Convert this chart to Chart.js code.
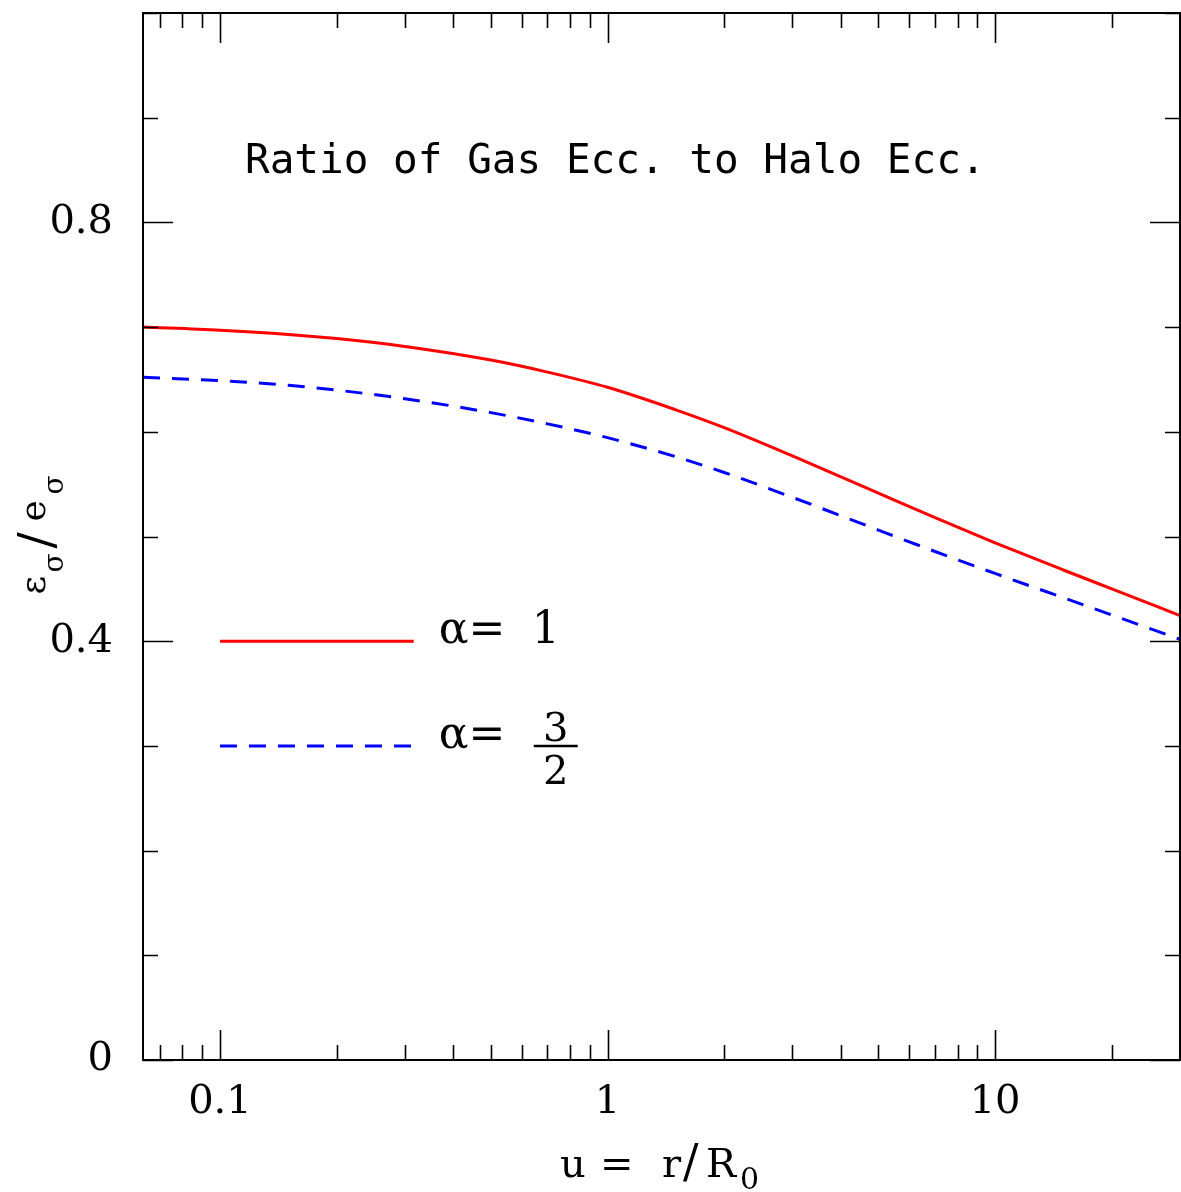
<!DOCTYPE html>
<html>
<head>
<meta charset="utf-8">
<script src="https://cdn.jsdelivr.net/npm/chart.js@4.4.0/dist/chart.umd.min.js"></script>
<style>
html,body{margin:0;padding:0;background:#fff;}
#wrap{width:1181px;height:1192px;position:relative;background:#fff;}
canvas{display:block;}
</style>
</head>
<body>
<div id="wrap"><canvas id="c" width="1181" height="1192"></canvas></div>
<script>
// ---- data ----
const uValues      = [0.0633, 0.1, 0.15, 0.2, 0.3, 0.5, 0.7, 1, 1.5, 2, 3, 5, 7, 10, 15, 20, 30];
const ratioAlpha1  = [0.700, 0.697, 0.693, 0.689, 0.6815, 0.6685, 0.657, 0.6425, 0.621, 0.604, 0.577, 0.5415, 0.518, 0.494, 0.468, 0.450, 0.4245];
const ratioAlpha32 = [0.652, 0.6488, 0.6444, 0.6398, 0.6316, 0.6183, 0.6076, 0.5944, 0.5762, 0.5611, 0.5374, 0.5061, 0.4857, 0.4647, 0.4415, 0.4250, 0.4018];

const xTickValues = [0.07, 0.08, 0.09, 0.1, 0.2, 0.3, 0.4, 0.5, 0.6, 0.7, 0.8, 0.9,
                     1, 2, 3, 4, 5, 6, 7, 8, 9, 10, 20, 30];
const xTickLabelValues = [0.1, 1, 10];
const xTickLabelTexts  = ['0.1', '1', '10'];
const yTickValues = [0, 0.1, 0.2, 0.3, 0.4, 0.5, 0.6, 0.7, 0.8, 0.9, 1.0];
const yTickLabelValues = [0, 0.4, 0.8];
const yTickLabelTexts  = ['0', '0.4', '0.8'];

const seriesLabels = ['α= 1', 'α= 3/2'];
const titleText = 'Ratio of Gas Ecc. to Halo Ecc.';

function findLabel(v, vals, texts) {
  for (let i = 0; i < vals.length; i++) {
    if (Math.abs(v - vals[i]) < 1e-9 + 1e-6 * Math.abs(vals[i])) return texts[i];
  }
  return '';
}
function isMajor(v, vals) { return findLabel(v, vals, vals.map(String)) !== ''; }
function zeroPad(s) { s.paddingLeft = 0; s.paddingRight = 0; s.paddingTop = 0; s.paddingBottom = 0; }

const SERIF = '"DejaVu Serif", "Liberation Serif", serif';

const decorPlugin = {
  id: 'decor',
  afterDatasetsDraw(chart) {
    const ctx = chart.ctx;
    const a = chart.chartArea;
    const xs = chart.scales.x, ys = chart.scales.y;
    ctx.save();
    // frame
    ctx.strokeStyle = '#000';
    ctx.lineWidth = 2;
    ctx.strokeRect(a.left, a.top, a.right - a.left, a.bottom - a.top);
    // inward ticks
    ctx.lineWidth = 1.6;
    ctx.beginPath();
    xTickValues.forEach(v => {
      const px = Math.round(xs.getPixelForValue(v)) + 0.5;
      const len = isMajor(v, xTickLabelValues) ? 30 : 15;
      ctx.moveTo(px, a.bottom); ctx.lineTo(px, a.bottom - len);
      ctx.moveTo(px, a.top);    ctx.lineTo(px, a.top + len);
    });
    yTickValues.forEach(v => {
      const py = Math.round(ys.getPixelForValue(v)) + 0.5;
      const len = isMajor(v, yTickLabelValues) ? 30 : 15;
      ctx.moveTo(a.left, py);  ctx.lineTo(a.left + len, py);
      ctx.moveTo(a.right, py); ctx.lineTo(a.right - len, py);
    });
    ctx.stroke();

    ctx.fillStyle = '#000';
    ctx.textBaseline = 'alphabetic';
    // title
    ctx.font = '41px "DejaVu Sans Mono", monospace';
    ctx.textAlign = 'left';
    ctx.fillText(titleText, 245, 173);

    // x axis label: u = r/R0
    ctx.font = '40px ' + SERIF;
    ctx.fillText('u', 560, 1177);
    ctx.fillText('=', 600, 1177);
    ctx.fillText('r', 662, 1177);
    ctx.font = '46px ' + SERIF;
    ctx.fillText('/', 683, 1177);
    ctx.font = '40px ' + SERIF;
    ctx.fillText('R', 706, 1177);
    ctx.font = '30px ' + SERIF;
    ctx.fillText('0', 740, 1189);

    // y axis label: eps_sigma / e_sigma (rotated)
    ctx.save();
    const cy = (a.top + a.bottom) / 2;
    ctx.translate(45, cy);
    ctx.rotate(-Math.PI / 2);
    ctx.textAlign = 'left';
    ctx.font = '36px ' + SERIF;
    ctx.fillText('ε', -58, 0);
    ctx.font = '28px ' + SERIF;
    ctx.fillText('σ', -36, 18);
    ctx.font = '48px ' + SERIF;
    ctx.textAlign = 'center';
    ctx.fillText('/', -4, 8);
    ctx.textAlign = 'left';
    ctx.font = '36px ' + SERIF;
    ctx.fillText('e', 15, 0);
    ctx.font = '28px ' + SERIF;
    ctx.fillText('σ', 42, 18);
    ctx.restore();

    // legend
    const lx0 = xs.getPixelForValue(0.1), lx1 = xs.getPixelForValue(0.3162);
    const ly1 = ys.getPixelForValue(0.4), ly2 = ys.getPixelForValue(0.3);
    ctx.lineWidth = 3;
    ctx.strokeStyle = '#ff0000';
    ctx.setLineDash([]);
    ctx.beginPath(); ctx.moveTo(lx0, ly1); ctx.lineTo(lx1, ly1); ctx.stroke();
    ctx.strokeStyle = '#0000ff';
    ctx.setLineDash([17, 12]);
    ctx.beginPath(); ctx.moveTo(lx0, ly2); ctx.lineTo(lx1, ly2); ctx.stroke();
    ctx.setLineDash([]);

    ctx.fillStyle = '#000';
    ctx.textAlign = 'left';
    ctx.font = '44px ' + SERIF;
    ctx.fillText('α=', lx1 + 25, ly1 + 2);
    ctx.fillText('1', lx1 + 118, ly1 + 2);
    ctx.fillText('α=', lx1 + 25, ly2 + 2);
    // fraction 3/2
    const fx = lx1 + 142;
    ctx.strokeStyle = '#000';
    ctx.lineWidth = 2.5;
    ctx.beginPath(); ctx.moveTo(lx1 + 120, ly2); ctx.lineTo(lx1 + 164, ly2); ctx.stroke();
    ctx.font = '40px ' + SERIF;
    ctx.textAlign = 'center';
    ctx.fillText('3', fx, ly2 - 5);
    ctx.fillText('2', fx, ly2 + 38);
    ctx.restore();
  }
};

const chart = new Chart(document.getElementById('c'), {
  type: 'line',
  data: {
    datasets: [
      {
        label: seriesLabels[0],
        data: uValues.map((u, i) => ({ x: u, y: ratioAlpha1[i] })),
        borderColor: '#ff0000',
        borderWidth: 3,
        pointRadius: 0,
        fill: false,
        cubicInterpolationMode: 'monotone'
      },
      {
        label: seriesLabels[1],
        data: uValues.map((u, i) => ({ x: u, y: ratioAlpha32[i] })),
        borderColor: '#0000ff',
        borderWidth: 3,
        borderDash: [17, 12],
        pointRadius: 0,
        fill: false,
        cubicInterpolationMode: 'monotone'
      }
    ]
  },
  options: {
    responsive: false,
    animation: false,
    devicePixelRatio: 1,
    layout: { padding: { left: 0, right: 1, top: 13, bottom: 0 } },
    plugins: { legend: { display: false }, tooltip: { enabled: false }, title: { display: false } },
    scales: {
      x: {
        type: 'logarithmic',
        min: 0.0633,
        max: 30,
        grid: { display: false, drawTicks: false },
        border: { display: false },
        afterBuildTicks: (s) => { s.ticks = xTickValues.map(v => ({ value: v })); },
        afterFit: (s) => { s.height = 132; zeroPad(s); },
        ticks: {
          autoSkip: false,
          maxRotation: 0,
          minRotation: 0,
          padding: 19,
          color: '#000',
          font: { family: SERIF, size: 40 },
          callback: (v) => findLabel(v, xTickLabelValues, xTickLabelTexts)
        }
      },
      y: {
        type: 'linear',
        min: 0,
        max: 1,
        grid: { display: false, drawTicks: false },
        border: { display: false },
        afterBuildTicks: (s) => { s.ticks = yTickValues.map(v => ({ value: v })); },
        afterFit: (s) => { s.width = 143; zeroPad(s); },
        ticks: {
          autoSkip: false,
          padding: 30,
          color: '#000',
          font: { family: SERIF, size: 40 },
          callback: (v) => findLabel(v, yTickLabelValues, yTickLabelTexts)
        }
      }
    }
  },
  plugins: [decorPlugin]
});
</script>
</body>
</html>
